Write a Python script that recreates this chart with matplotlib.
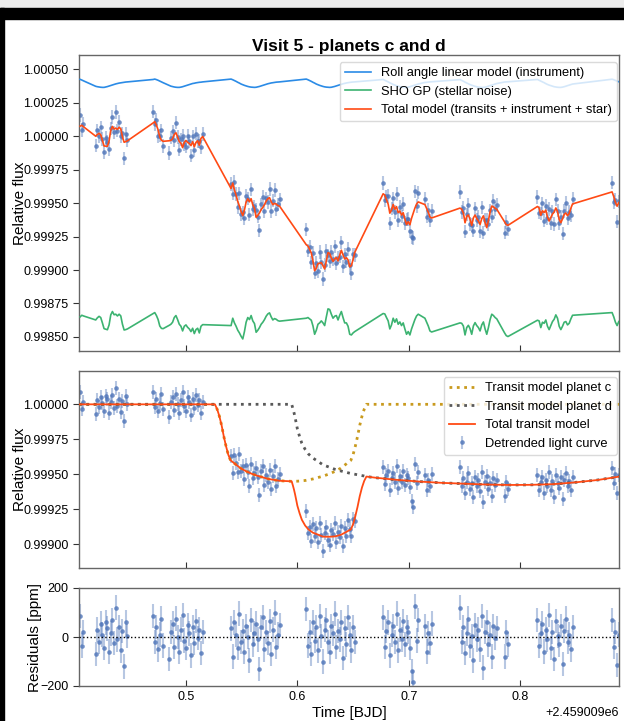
import numpy as np
import matplotlib
matplotlib.use("Agg")
import matplotlib.pyplot as plt
from matplotlib.patches import Rectangle
from matplotlib.ticker import FormatStrFormatter, MultipleLocator

plt.rcParams["font.family"] = ["Liberation Sans", "DejaVu Sans"]

BJD0 = 2459009.0

# observation times, BJD - 2459009 (one line per CHEOPS orbit chunk)
t_obs = [
    0.4050, 0.4065, 0.4080,
    0.4190, 0.4205, 0.4220, 0.4235, 0.4250, 0.4265, 0.4280, 0.4295, 0.4310, 0.4325,
    0.4340, 0.4355, 0.4370, 0.4385, 0.4400, 0.4415, 0.4430, 0.4445, 0.4460, 0.4475,
    0.4705, 0.4720, 0.4735, 0.4750, 0.4765, 0.4780, 0.4795,
    0.4850, 0.4865, 0.4880, 0.4895, 0.4910, 0.4925, 0.4940, 0.4955, 0.4970, 0.4985, 0.5000,
    0.5015, 0.5030, 0.5045, 0.5060, 0.5075, 0.5090, 0.5105, 0.5120, 0.5135, 0.5150,
    0.5405, 0.5420, 0.5435, 0.5450, 0.5465, 0.5480, 0.5495, 0.5510, 0.5525, 0.5540,
    0.5555, 0.5570, 0.5585, 0.5600, 0.5615, 0.5630, 0.5645, 0.5660, 0.5675, 0.5690,
    0.5705, 0.5720, 0.5735, 0.5750, 0.5765, 0.5780, 0.5795, 0.5810, 0.5825, 0.5840,
    0.6080, 0.6095, 0.6110, 0.6125, 0.6140, 0.6155, 0.6170, 0.6185, 0.6200, 0.6215,
    0.6230, 0.6245, 0.6260, 0.6275, 0.6290, 0.6305, 0.6320, 0.6335, 0.6350, 0.6365,
    0.6380, 0.6395, 0.6410, 0.6425, 0.6440, 0.6455, 0.6470, 0.6485, 0.6500, 0.6515,
    0.6770, 0.6785, 0.6800, 0.6815, 0.6830, 0.6845, 0.6860, 0.6875, 0.6890, 0.6905, 0.6920,
    0.6935, 0.6950, 0.6965, 0.6980, 0.6995, 0.7010, 0.7025, 0.7040, 0.7055, 0.7070, 0.7085,
    0.7145, 0.7160, 0.7175, 0.7190, 0.7205,
    0.7460, 0.7475, 0.7490, 0.7505, 0.7520, 0.7535, 0.7550, 0.7565, 0.7580, 0.7595, 0.7610, 0.7625,
    0.7640, 0.7655, 0.7670, 0.7685, 0.7700, 0.7715, 0.7730, 0.7745, 0.7760, 0.7775, 0.7790,
    0.7860, 0.7875, 0.7890,
    0.8155, 0.8170, 0.8185, 0.8200, 0.8215, 0.8230, 0.8245, 0.8260, 0.8275, 0.8290, 0.8305,
    0.8320, 0.8335, 0.8350, 0.8365, 0.8380, 0.8395, 0.8410, 0.8425, 0.8440, 0.8455, 0.8470,
    0.8825, 0.8840, 0.8855, 0.8870, 0.8885,
]

# residuals of the fit [ppm]
resid_ppm = [
    85, -35, 20,
    -70, 30, -20, 55, 10, -45, 60, 35, -60, 15, 70, -25, 120, -10, 40, -55, 25, -120, 60, 5,
    85, -20, 40, -50, 10, 75, -35,
    -90, 20, 55, -40, 75, 0, -60, 30, 90, -15, -45, 50, 15, -75, 40, -25, 65, -5, 30, -65, 20,
    35, -80, 60, 10, -45, 95, -20, 25, -60, 45, 0, -95, 70, -30, 15,
    55, -10, -130, 40, 80, -50, 20, -25, 65, -70, 30, 100, -40, 10, 50,
    115, -35, 20, -70, 60, -15, 40, -55, 85, 5, -100, 30, 70, -20, -60,
    45, 15, 95, -40, 25, -10, 60, -85, 35, -30, 80, 10, -55, 40, -20,
    80, -40, 25, 60, -75, 10, 45, -20, 95, -55, 30, -10, 65, -30, 40, 20, -45, -140, -185, 125, -15, 70,
    45, -60, 15, -25, 55,
    120, -20, 40, -65, 15, 75, -35, 5, -95, 50, -10, 30, -50, 85, -125, 20, 60, -30, 10, -80, 45, -5, 35,
    -80, 20, -30,
    70, -35, 15, 55, -60, 30, -10, 90, -45, 20, -90, 65, 5, -30, 45, -110, 25, 75, -20, 10, -50, 40,
    70, -40, 20, -115, 10,
]

# roll angle linear model (instrument) at the observation times [ppm]
roll_ppm = [
    25, 20, 14,
    -27, -30, -32, -34, -35, -35, -32, -29, -25, -21, -17, -13, -9, -6, -3, -1, 1, 3, 5, 6,
    24, 27, 23, 18, 12, 6, 0,
    -21, -26, -29, -32, -34, -35, -35, -33, -30, -26, -22, -18, -14, -10, -6, -4, -1, 1, 3, 4, 6,
    27, 22, 16, 10, 3, -3, -10, -15, -20, -24, -28, -31, -33, -34, -35,
    -34, -31, -28, -24, -20, -16, -12, -8, -5, -2, 0, 2, 4, 5, 6,
    27, 22, 16, 10, 3, -3, -10, -15, -20, -24, -28, -31, -33, -34, -35,
    -34, -31, -28, -24, -20, -16, -12, -8, -5, -2, 0, 2, 4, 5, 6,
    24, 18, 12, 6, -1, -7, -13, -18, -22, -26, -30, -32, -34, -35, -35, -33, -30, -26, -22, -18, -14, -10,
    2, 3, 5, 6, 7,
    23, 17, 11, 4, -2, -8, -14, -19, -23, -27, -30, -33, -34, -35, -35, -33, -30, -26, -22, -18, -14, -10, -6,
    5, 6, 7,
    24, 18, 12, 6, 0, -7, -13, -18, -22, -26, -30, -32, -34, -35, -35, -33, -30, -26, -22, -18, -14, -10,
    26, 22, 17, 12, 7,
]

# SHO GP (stellar noise) at the observation times [ppm]
gp_ppm = [
    50, 62, 57,
    27, 43, 54, 45, 5, -38, -42, -46, -10, 65, 90, 66, 70, 57, 70, 57, -5, -48, -45, -40,
    75, 82, 60, 30, -18, -36, -38,
    -13, -5, 10, 45, 60, 30, -5, -20, -55, -20, -10, -28, -40, -60, -35, -75, -45, -35, -70, -20, -8,
    -15, 40, 5, -20, -50, -70, -95, -115, -60, 10, 45, 30, 60, 20, 0,
    -65, -50, -30, -5, 10, 30, 55, 72, 80, 50, 27, 37, 32, 22, 18,
    40, 45, 35, 25, -18, -80, -50, -5, 5, 20, 5, -15, 50, 110, 105,
    70, 40, 55, 60, 27, 62, 90, 45, 5, 5, -20, -80, -85, -70, -60,
    75, 72, 45, 20, -40, -10, 40, 10, 35, -5, 12, -15, 5, -40, -80, -60, -85, -40, -5, 30, 57, 70,
    40, 10, -18, -55, -63,
    5, 2, -18, -85, -30, -13, -38, -80, -18, 7, -15, -30, -55, -10, 12, -40, -80, -30, 30, 70, 60, 45, 35,
    -70, -90, -97,
    25, 20, -30, 10, 2, 27, -20, -45, -15, 15, 32, 65, 40, -20, -45, -20, 10, 15, -10, 2, 35, 62,
    82, 50, 10, -15, 15,
]

# total transit model (planet c + planet d) at the observation times [ppm]
transit_ppm = [0] * 51 + [
    -403, -412, -422, -431, -440, -449, -458, -463, -471, -478, -484, -489, -494, -499, -503,
    -507, -511, -515, -519, -522, -525, -528, -531, -534, -537, -539, -541, -543, -545, -546,
    -878, -887, -897, -907, -917, -922, -926, -931, -935, -940, -945, -946, -946, -946, -946,
    -946, -944, -944, -942, -939, -935, -930, -924, -917, -911, -904, -898, -885, -857, -814,
    -529, -530, -532, -533, -534, -535, -537, -538, -539, -540, -541,
    -542, -543, -544, -545, -546, -547, -547, -548, -549, -550, -551,
    -553, -553, -554, -555, -555,
    -565, -565, -566, -566, -567, -567, -568, -568, -569, -569, -570, -570,
    -571, -571, -572, -572, -573, -573, -573, -574, -574, -574, -575,
    -576, -576, -576,
    -574, -574, -573, -573, -572, -572, -571, -571, -570, -570, -569,
    -569, -568, -567, -566, -565, -564, -563, -562, -561, -559, -558,
    -524, -523, -521, -520, -518,
]

ERR_PPM = 50

# transit models on their own time grid [BJD - 2459009], [ppm]
t_tr = [
    0.404, 0.526, 0.528, 0.530, 0.532, 0.534, 0.536, 0.538, 0.540, 0.542, 0.544, 0.549, 0.554,
    0.559, 0.564, 0.574, 0.584, 0.5949, 0.596, 0.597, 0.598, 0.599, 0.600, 0.602, 0.604, 0.607,
    0.610, 0.614, 0.618, 0.623, 0.629, 0.634, 0.639, 0.644, 0.646, 0.648, 0.650, 0.652, 0.654,
    0.656, 0.658, 0.660, 0.662, 0.670, 0.690, 0.710, 0.730, 0.750, 0.770, 0.790, 0.810, 0.830,
    0.850, 0.870, 0.889,
]
planet_c_ppm = [
    0, 0, -35, -85, -150, -230, -300, -360, -400, -412, -425, -456, -478,
    -496, -510, -533, -546, -550, -550, -550, -550, -549, -549, -548, -546, -544,
    -539, -533, -524, -513, -496, -478, -456, -425, -412, -400, -360, -300, -230,
    -150, -85, -35, 0, 0, 0, 0, 0, 0, 0, 0, 0, 0,
    0, 0, 0,
]
planet_d_ppm = [
    0, 0, 0, 0, 0, 0, 0, 0, 0, 0, 0, 0, 0,
    0, 0, 0, 0, 0, -30, -60, -95, -135, -175, -230, -278, -322,
    -355, -384, -405, -432, -450, -465, -476, -486, -490, -494, -497, -500, -503,
    -506, -509, -512, -516, -524, -540, -552, -561, -567, -573, -576, -575, -570,
    -557, -540, -516,
]

ROLL_SHIFT = 4e-4    # display offsets of the systematics curves
GP_SHIFT = -14e-4

assert len(t_obs) == len(resid_ppm) == len(roll_ppm) == len(gp_ppm) == len(transit_ppm)
assert len(t_tr) == len(planet_c_ppm) == len(planet_d_ppm)

t = BJD0 + np.array(t_obs)
res = np.array(resid_ppm) * 1e-6
roll = np.array(roll_ppm) * 1e-6
gp = np.array(gp_ppm) * 1e-6
tr = np.array(transit_ppm) * 1e-6
err = ERR_PPM * 1e-6

total_model = 1 + tr + roll + gp
raw_flux = total_model + res
detrended = 1 + tr + res

tt = BJD0 + np.array(t_tr)
model_c = 1 + np.array(planet_c_ppm) * 1e-6
model_d = 1 + np.array(planet_d_ppm) * 1e-6
model_tot = model_c + model_d - 1

# colours
DATA = (0.30, 0.45, 0.72, 0.8)
BARS = (0.30, 0.45, 0.72, 0.4)
C_ROLL = "#2b8be6"
C_GP = "#3cb371"
C_TOT = "#ff4a14"
C_PC = "#c99a1e"
C_PD = "#595959"

fig = plt.figure(figsize=(6.24, 7.21), dpi=100)
W, H = 624.0, 721.0


def rect(top, bottom, left=79, right=619):
    return [left / W, 1 - bottom / H, (right - left) / W, (bottom - top) / H]


ax1 = fig.add_axes(rect(55, 351))
ax2 = fig.add_axes(rect(371, 568), sharex=ax1)
ax3 = fig.add_axes(rect(588, 686), sharex=ax1)

eb_kw = dict(fmt="o", ms=3.3, color=DATA, mec="none", ecolor=BARS, elinewidth=1.5,
             capsize=0, zorder=1)

# top: raw light curve and model components
ax1.errorbar(t, raw_flux, yerr=err, **eb_kw)
ax1.plot(t, 1 + ROLL_SHIFT + roll, color=C_ROLL, lw=1.2, zorder=3,
         label="Roll angle linear model (instrument)")
ax1.plot(t, 1 + GP_SHIFT + gp, color=C_GP, lw=1.2, zorder=3,
         label="SHO GP (stellar noise)")
ax1.plot(t, total_model, color=C_TOT, lw=1.2, zorder=4,
         label="Total model (transits + instrument + star)")
ax1.set_ylim(0.998395, 1.000607)
ax1.set_ylabel("Relative flux", fontsize=11)
ax1.set_title("Visit 5 - planets c and d", fontsize=12.5, fontweight="bold", pad=3)
ax1.legend(loc="upper right", bbox_to_anchor=(0.9963, 0.9764), borderaxespad=0,
           fontsize=9.3, framealpha=0.8, edgecolor="0.82", fancybox=True)

# middle: detrended light curve with transit models
h_data = ax2.errorbar(t, detrended, yerr=err, label="Detrended light curve", **eb_kw)
h_c, = ax2.plot(tt, model_c, ls=":", color=C_PC, lw=2.0, zorder=3,
                label="Transit model planet c")
h_d, = ax2.plot(tt, model_d, ls=":", color=C_PD, lw=2.0, zorder=3,
                label="Transit model planet d")
h_t, = ax2.plot(tt, model_tot, color=C_TOT, lw=1.3, zorder=4, label="Total transit model")
ax2.set_ylim(0.998831, 1.000238)
ax2.set_ylabel("Relative flux", fontsize=11)
ax2.legend(handles=[h_c, h_d, h_t, h_data], loc="upper right",
           bbox_to_anchor=(0.9963, 0.9695), borderaxespad=0,
           fontsize=9.3, framealpha=0.8, edgecolor="0.82", fancybox=True)

# bottom: residuals
ax3.errorbar(t, np.array(resid_ppm), yerr=ERR_PPM, **eb_kw)
ax3.axhline(0, color="k", ls=":", lw=1.0, zorder=3)
ax3.set_ylim(-200, 200)
ax3.set_yticks([-200, 0, 200])
ax3.set_ylabel("Residuals [ppm]", fontsize=11)
ax3.set_xlabel("Time [BJD]", fontsize=11, labelpad=2)
ax3.set_xlim(BJD0 + 0.404, BJD0 + 0.8887)

for ax in (ax1, ax2):
    ax.yaxis.set_major_locator(MultipleLocator(0.00025))
    ax.yaxis.set_major_formatter(FormatStrFormatter("%.5f"))
    plt.setp(ax.get_xticklabels(), visible=False)
    ax.xaxis.get_offset_text().set_visible(False)
    ax.yaxis.set_label_coords(-0.097, 0.5)
ax3.yaxis.set_label_coords(-0.069, 0.5)

for ax in (ax1, ax2, ax3):
    for sp in ax.spines.values():
        sp.set_color("0.4")
        sp.set_linewidth(1.0)
    ax.tick_params(axis="x", direction="in", length=4, color="0.2", labelsize=9)
    ax.tick_params(axis="y", direction="out", length=4, color="0.2", labelsize=9)
ax3.xaxis.get_offset_text().set_fontsize(9)

# screenshot frame around the figure
fig.patches.append(Rectangle((0, 1 - 8 / H), 1, 8 / H, transform=fig.transFigure,
                             color="#ececec", zorder=0))
fig.patches.append(Rectangle((0, 1 - 19 / H), 1, 11 / H, transform=fig.transFigure,
                             color="black", zorder=0))
fig.patches.append(Rectangle((0, 0), 4 / W, 1 - 8 / H, transform=fig.transFigure,
                             color="black", zorder=0))

fig.savefig("out.png", dpi=100)
